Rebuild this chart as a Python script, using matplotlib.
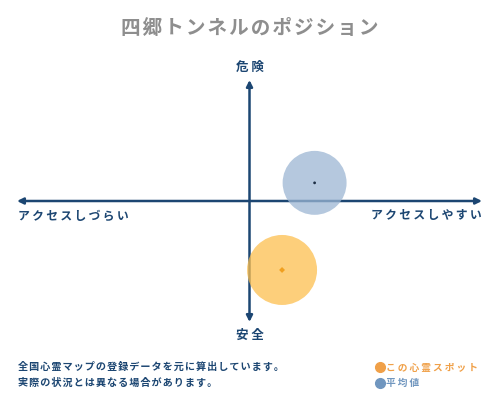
import matplotlib
matplotlib.use("Agg")
import matplotlib.pyplot as plt
from matplotlib.lines import Line2D

plt.rcParams['font.family'] = ['Noto Sans CJK JP', 'DejaVu Sans']

# positions on the access (x) / danger (y) plane, both in -1..1
labels = ['この心霊スポット', '平均値']
access = [0.14, 0.28]
danger = [-0.57, 0.15]

title = '四郷トンネルのポジション'
axis_top, axis_bottom = '危険', '安全'
axis_left, axis_right = 'アクセスしづらい', 'アクセスしやすい'
notes = ['全国心霊マップの登録データを元に算出しています。',
         '実際の状況とは異なる場合があります。']

navy = '#1c4672'
fill_colors = ['#fdbf4f', '#9cb6d3']
dot_colors = ['#f0a020', '#1c2e44']
legend_colors = ['#f0a048', '#7096bf']
sizes = [2540, 2120]


def spaced(s, gap='\u2009'):
    return gap.join(s)


fig = plt.figure(figsize=(5, 4), dpi=100)
ax = fig.add_axes([17 / 500, 78 / 400, 465 / 500, 242 / 400])
ax.set_xlim(-1, 1)
ax.set_ylim(-1, 1)
ax.axis('off')

arrow = dict(arrowstyle='<|-|>', color=navy, lw=1.8, mutation_scale=9,
             shrinkA=0, shrinkB=0)
ax.annotate('', xy=(1, 0), xytext=(-1, 0), arrowprops=arrow)
ax.annotate('', xy=(0, 1), xytext=(0, -1), arrowprops=arrow)

for i in range(len(labels)):
    ax.scatter(access[i], danger[i], s=sizes[i], color=fill_colors[i],
               alpha=0.75, edgecolors='none', zorder=3)
    ax.scatter(access[i], danger[i], s=4 if i == 1 else 9,
               color=dot_colors[i], marker='o' if i == 1 else 'D',
               edgecolors='none', zorder=4)

fig.text(0.5, 1 - 28 / 400, spaced(title, '\u200a'), ha='center', va='center',
         fontsize=14.1, fontweight='bold', color='#8e8e8e')
fig.text(0.5, 1 - 67 / 400, spaced(axis_top, ' '), ha='center', va='center',
         fontsize=9, fontweight='bold', color=navy)
fig.text(0.5, 1 - 335 / 400, spaced(axis_bottom, ' '), ha='center', va='center',
         fontsize=9, fontweight='bold', color=navy)
fig.text(18 / 500, 1 - 216 / 400, spaced(axis_left), ha='left', va='center',
         fontsize=8.5, fontweight='bold', color=navy)
fig.text(482 / 500, 1 - 216 / 400, spaced(axis_right), ha='right', va='center',
         fontsize=8.5, fontweight='bold', color=navy)

for k, line in enumerate(notes):
    fig.text(18 / 500, 1 - (367 + 16 * k) / 400, spaced(line, '\u200a'),
             ha='left', va='center', fontsize=7.3, fontweight='bold', color=navy)

handles = [Line2D([], [], linestyle='none', marker='o', markersize=7,
                  color=legend_colors[i]) for i in range(len(labels))]
leg = fig.legend(handles, [spaced(l) for l in labels], loc='upper left',
                 bbox_to_anchor=(372 / 500, 1 - 358 / 400), frameon=False,
                 fontsize=7, handlelength=0.6, handletextpad=0.35,
                 labelspacing=0.55, borderpad=0)
for t, c in zip(leg.get_texts(), legend_colors):
    t.set_color(c)
    t.set_fontweight('bold')

fig.savefig('out.png', dpi=100, facecolor='white')
